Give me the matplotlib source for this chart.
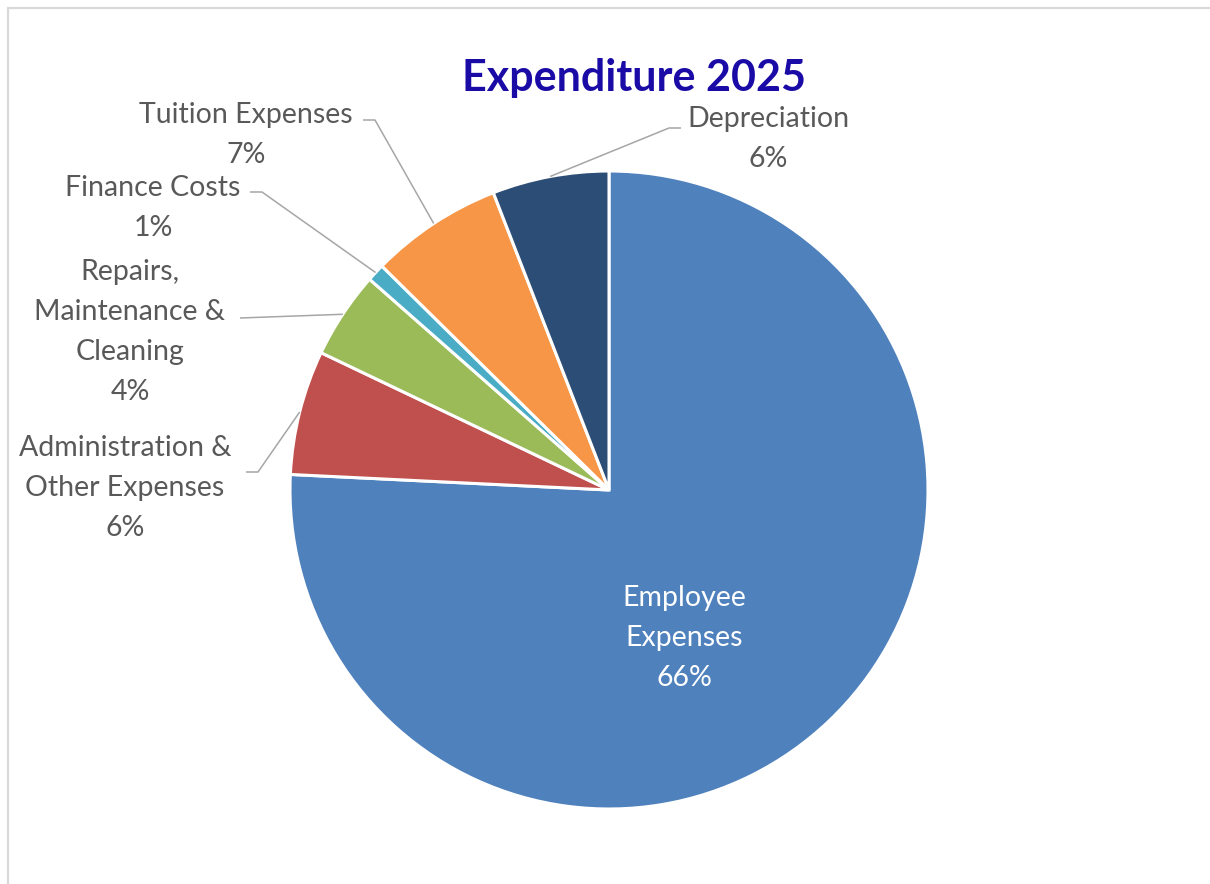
import numpy as np
import matplotlib.pyplot as plt
from matplotlib.patches import Rectangle

plt.rcParams['font.family'] = ['Lato', 'DejaVu Sans']

# slice shares (clockwise from 12 o'clock)
categories = ['Employee\nExpenses', 'Administration &\nOther Expenses',
              'Repairs,\nMaintenance &\nCleaning', 'Finance Costs',
              'Tuition Expenses', 'Depreciation']
values = [75.7, 6.3, 4.4, 0.9, 6.7, 5.9]
pct_labels = ['66%', '6%', '4%', '1%', '7%', '6%']
colors = ['#4F81BD', '#C0504D', '#9BBB59', '#4BACC6', '#F79646', '#2C4D75']

W, H = 1210, 884
fig = plt.figure(figsize=(W / 100, H / 100), dpi=100)
ax = fig.add_axes([0, 0, 1, 1])

# chart border (only top/left visible)
ax.add_patch(Rectangle((7.5, -20), W + 40, H - 7.5 + 20, fill=False,
                       edgecolor='#D9D9D9', lw=1.6))

cx, cy, r = 609, H - 490, 319
wedges, _ = ax.pie(values, colors=colors, startangle=90, counterclock=False,
                   center=(cx, cy), radius=r, frame=True,
                   wedgeprops=dict(edgecolor='white', linewidth=2.2))
ax.set_xlim(0, W)
ax.set_ylim(0, H)
ax.set_aspect('equal')
ax.axis('off')

ax.text(634, H - 78, 'Expenditure 2025', ha='center', va='center',
        fontsize=31, fontweight='bold', color='#1A0AA6')

txt_col = '#595959'
line_col = '#A6A6A6'
fs = 20.5
ls = 1.68

# employee label inside the slice
ax.text(684, H - 638, categories[0] + '\n' + pct_labels[0], ha='center',
        va='center', fontsize=fs, color='white', linespacing=ls)

# outside labels: text centre, elbow points of leader
layout = {
    1: dict(xy=(125, H - 488), pts=[(246, H - 472), (258, H - 472)]),
    2: dict(xy=(130, H - 332), pts=[(240, H - 318)]),
    3: dict(xy=(153, H - 208), pts=[(250, H - 192), (262, H - 192)]),
    4: dict(xy=(246, H - 135), pts=[(363, H - 120), (375, H - 120)]),
    5: dict(xy=(768, H - 139), pts=[(681, H - 128), (669, H - 128)]),
}
for i, lay in layout.items():
    w = wedges[i]
    mid = np.deg2rad((w.theta1 + w.theta2) / 2)
    ex, ey = cx + r * np.cos(mid), cy + r * np.sin(mid)
    xs = [p[0] for p in lay['pts']] + [ex]
    ys = [p[1] for p in lay['pts']] + [ey]
    ax.plot(xs, ys, color=line_col, lw=1.1, solid_capstyle='butt')
    ax.text(lay['xy'][0], lay['xy'][1], categories[i] + '\n' + pct_labels[i],
            ha='center', va='center', fontsize=fs, color=txt_col,
            linespacing=ls)

fig.savefig('out.png', dpi=100)
